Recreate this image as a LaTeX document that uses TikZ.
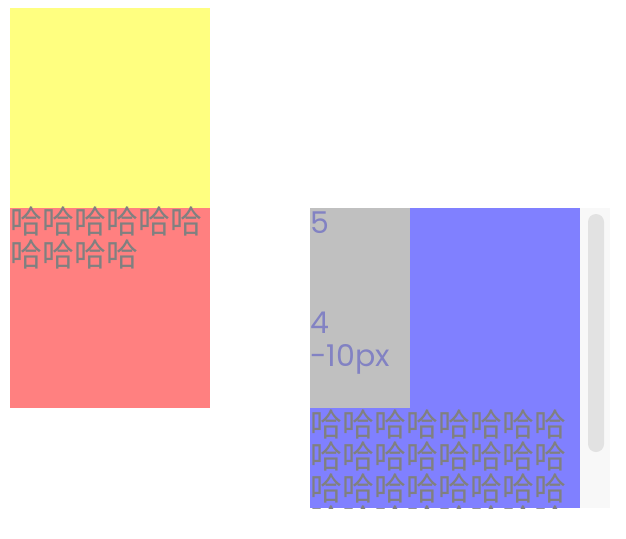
\documentclass[tikz,border=0pt]{standalone}
\usepackage{fontspec}
\newfontfamily\cjk{Noto Sans CJK SC}
\newfontfamily\geo{Poppins}
\usepackage{xcolor}
\usetikzlibrary{positioning}
\definecolor{YelC}{RGB}{255,255,128}
\definecolor{RedC}{RGB}{255,128,128}
\definecolor{GryC}{RGB}{192,192,192}
\definecolor{BluC}{RGB}{128,128,255}
\definecolor{TxtC}{RGB}{128,128,128}
\definecolor{NumC}{RGB}{130,130,195}
\definecolor{TrkC}{RGB}{248,248,248}
\definecolor{ThbC}{RGB}{226,226,226}
\tikzset{
  blk/.style={draw=none,inner sep=0pt,outer sep=0pt,anchor=north west},
  hz/.style={inner sep=0pt,anchor=base west,text=TxtC,
             font=\cjk\fontsize{32}{32}\selectfont},
  num/.style={inner sep=0pt,anchor=base west,text=NumC,
              font=\geo\fontsize{30}{30}\selectfont},
}

\begin{document}
\begin{tikzpicture}[x=1pt,y=-1pt,
    sq/.style={blk,minimum width=200pt,minimum height=200pt}]
  \useasboundingbox (0,0) rectangle (626,538);
  % left column
  \node[sq,fill=YelC] (yel) at (10,8) {};
  \node[sq,fill=RedC,below=0pt of yel] (red) {};
  \node[hz] (r1) at (10,233) {哈哈哈哈哈哈};
  \node[hz] (r2) at (10,266) {哈哈哈哈};
  % scroll box
  \node[blk,fill=TrkC,minimum width=30pt,minimum height=300pt] (trk) at (580,208) {};
  \node[blk,fill=ThbC,rounded corners=8pt,minimum width=16pt,minimum height=238pt] (thb) at (588,214) {};
  \node[blk,fill=BluC,minimum width=270pt,minimum height=300pt] (blu) at (310,208) {};
  \node[blk,fill=GryC,minimum width=100pt,minimum height=200pt] (gry) at (310,208) {};
  \node[num] (n5) at (310,233) {5};
  \node[num] (n4) at (310,333) {4};
  \node[num] (n10) at (310,366) {-10px};
  \begin{scope}
    \clip (blu.north west) rectangle (blu.south east);
    \foreach \i in {1,...,4}
      \node[hz] (b\i) at (310,404+32*\i) {哈哈哈哈哈哈哈哈};
  \end{scope}
\end{tikzpicture}
\end{document}
